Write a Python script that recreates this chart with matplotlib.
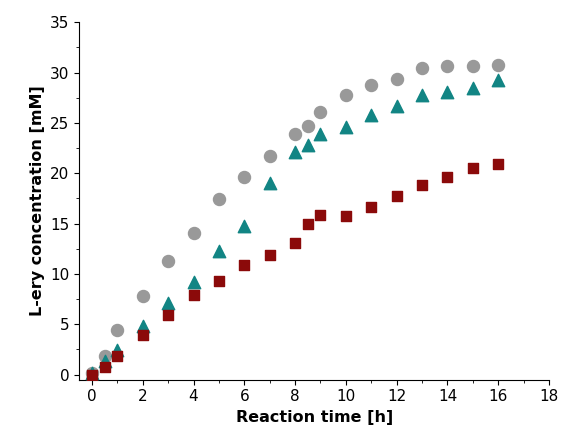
import matplotlib.pyplot as plt
from matplotlib.ticker import AutoMinorLocator

time_h = [0, 0.5, 1, 2, 3, 4, 5, 6, 7, 8, 8.5, 9, 10, 11, 12, 13, 14, 15, 16]
circles = [0.2, 1.8, 4.4, 7.8, 11.3, 14.1, 17.4, 19.6, 21.7, 23.9, 24.7, 26.1,
           27.8, 28.8, 29.4, 30.5, 30.6, 30.6, 30.7]
triangles = [0.2, 1.3, 2.4, 4.8, 7.1, 9.2, 12.3, 14.8, 19.0, 22.1, 22.8, 23.9,
             24.6, 25.8, 26.7, 27.8, 28.1, 28.5, 29.3]
squares = [0.0, 0.8, 1.8, 3.9, 5.9, 7.9, 9.3, 10.9, 11.9, 13.1, 15.0, 15.9,
           15.8, 16.6, 17.7, 18.8, 19.6, 20.5, 20.9]

fig, ax = plt.subplots(figsize=(5.66, 4.44), dpi=100)
fig.subplots_adjust(left=0.14, right=0.97, bottom=0.145, top=0.95)

ax.scatter(time_h, circles, marker='o', s=75, color='#999999', zorder=3)
ax.scatter(time_h, triangles, marker='^', s=80, color='#128584', zorder=3)
ax.scatter(time_h, squares, marker='s', s=50, color='#8b0a0a', zorder=3)

ax.set_xlim(-0.5, 18)
ax.set_ylim(-0.5, 35)
ax.set_xticks(range(0, 19, 2))
ax.set_yticks(range(0, 36, 5))
ax.xaxis.set_minor_locator(AutoMinorLocator(2))
ax.yaxis.set_minor_locator(AutoMinorLocator(2))
ax.tick_params(labelsize=11)
for s in ['top', 'right']:
    ax.spines[s].set_visible(False)

ax.set_xlabel('Reaction time [h]', fontsize=11.5, fontweight='bold')
ax.set_ylabel('L-ery concentration [mM]', fontsize=11.5, fontweight='bold')

fig.savefig('out.png', dpi=100)
